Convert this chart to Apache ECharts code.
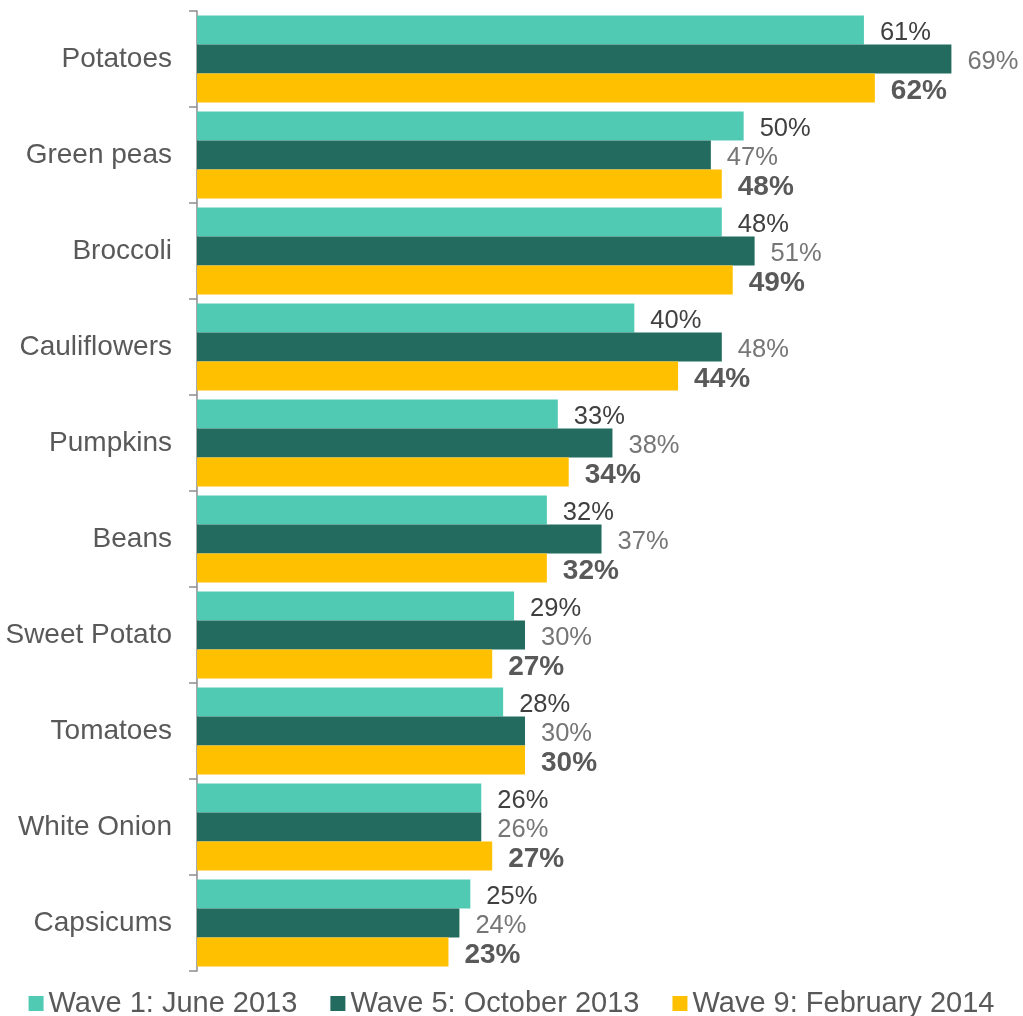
<!DOCTYPE html>
<html>
<head>
<meta charset="utf-8">
<title>Vegetables purchased by wave</title>
<script src="https://cdn.jsdelivr.net/npm/echarts@6/dist/echarts.min.js"></script>
<style>
  html, body { margin: 0; padding: 0; background: #ffffff; }
  #chart { width: 1023px; height: 1016px; }
</style>
</head>
<body>
<div id="chart"></div>
<script>
// Vegetable categories, listed top to bottom
const categories = ['Potatoes', 'Green peas', 'Broccoli', 'Cauliflowers', 'Pumpkins',
  'Beans', 'Sweet Potato', 'Tomatoes', 'White Onion', 'Capsicums'];

// Share of respondents (%) for each survey wave
const wave1Name = 'Wave 1: June 2013';
const wave1 = [61, 50, 48, 40, 33, 32, 29, 28, 26, 25];

const wave5Name = 'Wave 5: October 2013';
const wave5 = [69, 47, 51, 48, 38, 37, 30, 30, 26, 24];

const wave9Name = 'Wave 9: February 2014';
const wave9 = [62, 48, 49, 44, 34, 32, 27, 30, 27, 23];

const FONT = '"Liberation Sans", Arial, Helvetica, sans-serif';

function makeSeries(name, values, color, labelColor, bold, labelSize) {
  return {
    name: name,
    type: 'bar',
    data: values,
    barGap: '0%',
    barCategoryGap: '9.4%',
    itemStyle: { color: color },
    label: {
      show: true,
      position: 'right',
      distance: 16,
      offset: [0, 3],
      formatter: '{c}%',
      color: labelColor,
      fontFamily: FONT,
      fontSize: labelSize,
      fontWeight: bold ? 'bold' : 'normal'
    },
    emphasis: { disabled: true }
  };
}

const chart = echarts.init(document.getElementById('chart'), null, { renderer: 'canvas' });

chart.setOption({
  animation: false,
  backgroundColor: '#ffffff',
  grid: { left: 197, right: 6, top: 11, bottom: 45, containLabel: false },
  legend: {
    left: 'center',
    top: 984,
    itemWidth: 15,
    itemHeight: 15,
    itemGap: 33,
    icon: 'rect',
    textStyle: { fontFamily: FONT, fontSize: 29, color: '#595959' },
    data: [wave1Name, wave5Name, wave9Name]
  },
  xAxis: {
    type: 'value',
    min: 0,
    max: 75,
    show: false,
    splitLine: { show: false }
  },
  yAxis: {
    type: 'category',
    data: categories,
    inverse: true,
    axisLine: { show: true, lineStyle: { color: '#8c8c8c', width: 1.5 } },
    axisTick: { show: true, length: 8, lineStyle: { color: '#8c8c8c', width: 1.5 } },
    axisLabel: { fontFamily: FONT, fontSize: 28, color: '#595959', margin: 25 },
    splitLine: { show: false }
  },
  series: [
    makeSeries(wave1Name, wave1, '#51CAB4', '#404040', false, 25.5),
    makeSeries(wave5Name, wave5, '#226B5E', '#767676', false, 25.5),
    makeSeries(wave9Name, wave9, '#FFC000', '#595959', true, 28)
  ]
});
</script>
</body>
</html>
